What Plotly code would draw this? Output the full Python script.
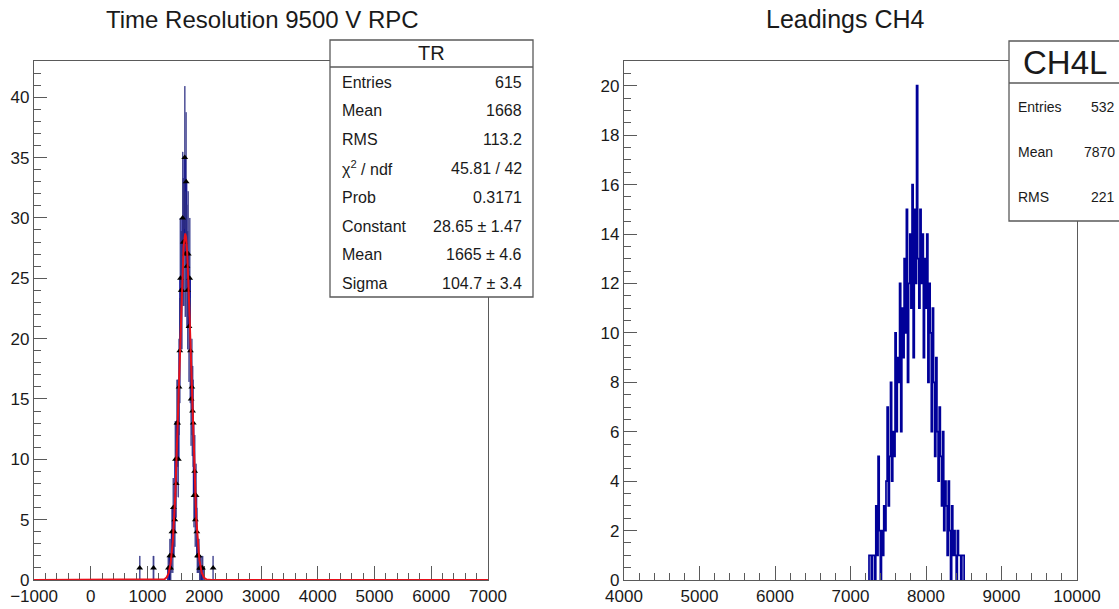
import numpy as np
import plotly.graph_objects as go

# ---------------- Time resolution histogram "TR" ----------------
tr_bin_lo = 1350.0
tr_bin_width = 12.5
tr_counts = [0, 1, 0, 2, 1, 2, 4, 2, 6, 4,
             5, 10, 8, 13, 13, 10, 16, 19, 25, 24,
             24, 30, 28, 28, 35, 27, 33, 26, 24, 27,
             21, 25, 19, 15, 16, 14, 13, 7, 9, 5,
             7, 4, 2, 2, 2, 1, 1, 1, 0, 1]
# isolated entries away from the peak
tr_tail_centers = [862.5, 1106.25, 2156.25]
tr_tail_counts = [1, 1, 1]

# Gaussian fit result
fit_constant = 28.65
fit_mean = 1665.0
fit_sigma = 104.7

tr_stats = [
    ("Entries", "615"),
    ("Mean", "1668"),
    ("RMS", "113.2"),
    ("χ<sup>2</sup> / ndf", "45.81 / 42"),
    ("Prob", "0.3171"),
    ("Constant", "28.65 ± 1.47"),
    ("Mean", "1665 ± 4.6"),
    ("Sigma", "104.7 ± 3.4"),
]

# ---------------- Leading-edge histogram "CH4L" ----------------
ch4_bin_lo = 7245.0
ch4_bin_width = 15.0
ch4_counts = [1, 1, 0, 1, 1, 0, 3, 1, 5, 2,
              0, 2, 1, 3, 2, 4, 7, 3, 5, 8,
              4, 6, 5, 10, 6, 9, 8, 12, 6, 11,
              9, 13, 10, 15, 8, 12, 14, 11, 16, 9,
              15, 12, 20, 13, 11, 15, 12, 14, 9, 13,
              11, 14, 8, 12, 10, 6, 11, 8, 5, 9,
              6, 4, 7, 5, 3, 6, 2, 4, 3, 1,
              4, 2, 0, 3, 1, 2, 1, 0, 2, 1,
              1, 0, 1, 1]

ch4_stats = [("Entries", "532"), ("Mean", "7870"), ("RMS", "221")]

tr_xticks = list(range(-1000, 7001, 1000))
ch4_xticks = list(range(4000, 10001, 1000))

W, H = 1119, 609
FONT = "Liberation Sans, Arial, Helvetica, sans-serif"
FRAME = "#5a5a5a"
NAVY = "#000099"
TEXT = "#1a1a1a"


def px(x):
    return x / W


def py(y):
    return 1 - y / H


def step_xy(lo, width, counts):
    edges = lo + width * np.arange(len(counts) + 1)
    xs = np.repeat(edges, 2)
    ys = np.concatenate([[0], np.repeat(counts, 2), [0]])
    return xs, ys


def tick_text(vals):
    return [("\u2212" + str(-v)) if v < 0 else str(v) for v in vals]


fig = go.Figure()

# ---- left panel ----
tr_c = np.array(tr_counts, dtype=float)
tr_centers = tr_bin_lo + tr_bin_width * (np.arange(len(tr_c)) + 0.5)
all_centers = np.concatenate([tr_centers, tr_tail_centers])
all_counts = np.concatenate([tr_c, tr_tail_counts])
nz = all_counts > 0
err = np.sqrt(all_counts[nz])

# error boxes
fig.add_trace(go.Bar(
    x=all_centers[nz], y=2 * err, base=all_counts[nz] - err,
    width=tr_bin_width * 3, marker=dict(color="rgba(110,115,180,0.5)", line_width=0),
    xaxis="x", yaxis="y", showlegend=False, hoverinfo="skip"))

# histogram outline
xs, ys = step_xy(tr_bin_lo, tr_bin_width, tr_c)
fig.add_trace(go.Scatter(x=xs, y=ys, mode="lines", line=dict(color=NAVY, width=1.6),
                         xaxis="x", yaxis="y", showlegend=False, hoverinfo="skip"))

# markers with error bars
fig.add_trace(go.Scatter(
    x=all_centers[nz], y=all_counts[nz], mode="markers",
    marker=dict(symbol="triangle-up", size=6, color="black"),
    error_y=dict(type="data", array=err, color="rgba(50,50,130,0.9)", thickness=1, width=0),
    xaxis="x", yaxis="y", showlegend=False, hoverinfo="skip"))

# gaussian fit curve
gx = np.unique(np.concatenate([np.linspace(-1000, 7000, 401),
                               np.linspace(fit_mean - 6 * fit_sigma, fit_mean + 6 * fit_sigma, 400)]))
gy = fit_constant * np.exp(-0.5 * ((gx - fit_mean) / fit_sigma) ** 2)
fig.add_trace(go.Scatter(x=gx, y=gy, mode="lines", line=dict(color="#e8101a", width=2),
                         xaxis="x", yaxis="y", showlegend=False, hoverinfo="skip"))

# ---- right panel ----
xs2, ys2 = step_xy(ch4_bin_lo, ch4_bin_width, np.array(ch4_counts, dtype=float))
fig.add_trace(go.Scatter(x=xs2, y=ys2, mode="lines", line=dict(color=NAVY, width=1.7),
                         xaxis="x2", yaxis="y2", showlegend=False, hoverinfo="skip"))

ydom = [py(580), py(61)]
axis_common = dict(showline=True, mirror=True, linecolor=FRAME, linewidth=1.3, automargin=False,
                   showgrid=False, zeroline=False, ticks="inside", tickcolor=FRAME,
                   tickwidth=1.2, tickfont=dict(family=FONT, size=17, color=TEXT))

fig.update_layout(
    width=W, height=H, margin=dict(l=0, r=0, t=0, b=0),
    paper_bgcolor="white", plot_bgcolor="white", bargap=0,
    xaxis=dict(domain=[px(34), px(488)], range=[-1000, 7000], tickvals=tr_xticks,
               ticktext=tick_text(tr_xticks),
               ticklen=14, minor=dict(ticks="inside", dtick=200, ticklen=7, tickcolor=FRAME),
               anchor="y", layer="below traces", **axis_common),
    yaxis=dict(domain=ydom, range=[0, 43], dtick=5, ticklen=13,
               minor=dict(ticks="inside", dtick=1, ticklen=7, tickcolor=FRAME),
               anchor="x", **axis_common),
    xaxis2=dict(domain=[px(624), px(1077)], range=[4000, 10000], tickvals=ch4_xticks,
                ticktext=tick_text(ch4_xticks), ticklen=14,
                minor=dict(ticks="inside", dtick=200, ticklen=7, tickcolor=FRAME),
                anchor="y2", **axis_common),
    yaxis2=dict(domain=ydom, range=[0, 21], dtick=2, ticklen=13,
                minor=dict(ticks="inside", dtick=0.5, ticklen=7, tickcolor=FRAME),
                anchor="x2", **axis_common),
)

shapes = []
annotations = []


def note(text, x, y, size, anchor="center"):
    annotations.append(dict(text=text, x=px(x), y=py(y), xref="paper", yref="paper", showarrow=False,
                            font=dict(family=FONT, size=size, color=TEXT),
                            xanchor=anchor, yanchor="middle"))


# titles
note("Time Resolution 9500 V RPC", 262, 20, 24)
note("Leadings CH4", 846, 19, 25)

# stats box TR
shapes.append(dict(type="rect", xref="paper", yref="paper", x0=px(330), x1=px(533), y0=py(297), y1=py(40),
                   line=dict(color=FRAME, width=1.3), fillcolor="white", layer="above"))
shapes.append(dict(type="line", xref="paper", yref="paper", x0=px(330), x1=px(533), y0=py(67), y1=py(67),
                   line=dict(color=FRAME, width=1.3), layer="above"))
note("TR", 431, 53, 20)
for i, (lab, val) in enumerate(tr_stats):
    note(lab, 340, 82 + i * 28.8, 16, "left")
    note(val, 524, 82 + i * 28.8, 16, "right")

# stats box CH4L
shapes.append(dict(type="rect", xref="paper", yref="paper", x0=px(1009), x1=px(1130), y0=py(221), y1=py(41),
                   line=dict(color=FRAME, width=1.3), fillcolor="white", layer="above"))
shapes.append(dict(type="line", xref="paper", yref="paper", x0=px(1009), x1=px(1130), y0=py(83), y1=py(83),
                   line=dict(color=FRAME, width=1.3), layer="above"))
note("CH4L", 1021, 63, 33, "left")
for i, (lab, val) in enumerate(ch4_stats):
    note(lab, 1016, 107 + i * 45, 14, "left")
    note(val, 1117, 107 + i * 45, 14, "right")

fig.update_layout(shapes=shapes, annotations=annotations)
fig.write_html("out.html")
